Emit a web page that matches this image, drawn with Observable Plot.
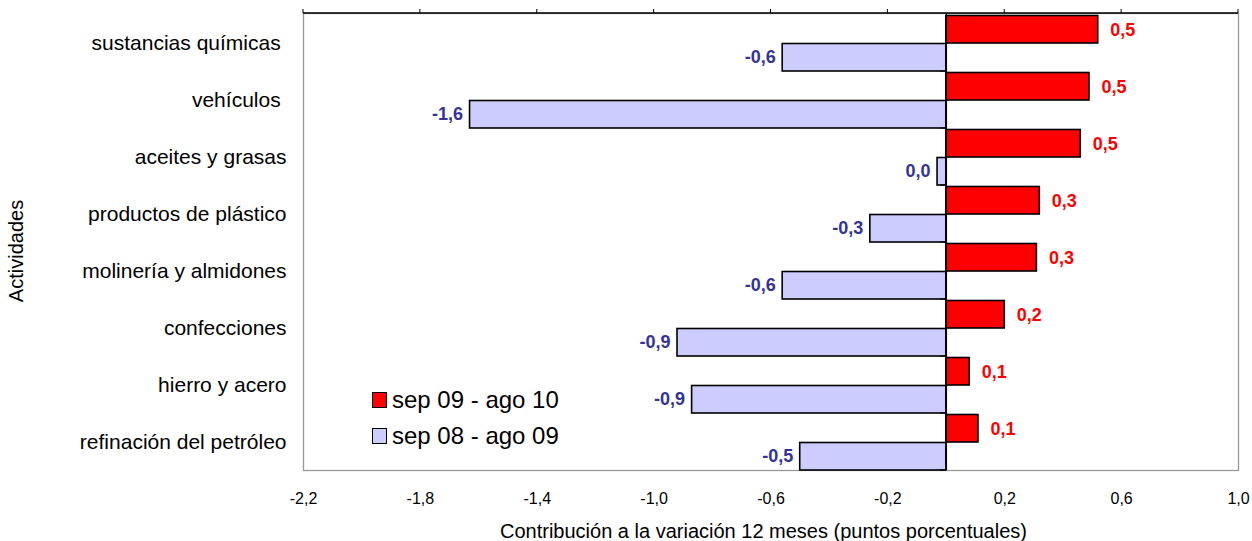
<!DOCTYPE html>
<html><head><meta charset="utf-8">
<script src="https://cdn.jsdelivr.net/npm/d3@7"></script>
<script src="https://cdn.jsdelivr.net/npm/@observablehq/plot@0.6"></script>
<style>
body{margin:0;background:#fff;font-family:"Liberation Sans",Arial,sans-serif;}
#wrap{position:relative;width:1252px;height:541px;}
.leg{position:absolute;left:372px;font-size:24px;color:#000;display:flex;align-items:center;}
.leg span.sw{display:inline-block;width:13px;height:14px;border:1px solid #000;margin-right:5px;}
</style></head>
<body><div id="wrap"></div>
<script>
const categories = ["sustancias químicas ","vehículos ","aceites y grasas","productos de plástico","molinería y almidones","confecciones","hierro y acero","refinación del petróleo"];
const series = ["sep 09 - ago 10","sep 08 - ago 09"];
const values2010 = [0.52, 0.49, 0.46, 0.32, 0.31, 0.20, 0.08, 0.11];
const values2009 = [-0.56, -1.63, -0.03, -0.26, -0.56, -0.92, -0.87, -0.50];
const xTicks = [-2.2,-1.8,-1.4,-1.0,-0.6,-0.2,0.2,0.6,1.0];
const xTitle = "Contribución a la variación 12 meses (puntos porcentuales)";
const yTitle = "Actividades";
const colors = ["#ff0000","#ccccff"];
const labelColors = ["#ff0000","#333399"];

const fmt = v => { let s = v.toFixed(1); if (s === "-0.0") s = "0.0"; return s.replace(".", ","); };
const red = categories.map((c,i)=>({cat:c, value:values2010[i]}));
const blue = categories.map((c,i)=>({cat:c, value:values2009[i]}));

const W = 1252, H = 541;
const plot = Plot.plot({
  width: W, height: H,
  marginLeft: 303, marginRight: 14, marginTop: 13, marginBottom: 71,
  style: {fontFamily: "'Liberation Sans', Arial, sans-serif", fontSize: "16px", color:"#000", background:"#fff"},
  x: {domain: [-2.2, 1.0], ticks: xTicks, tickFormat: d => d.toFixed(1).replace(".", ","), tickSize: 0, tickPadding: 22,
      label: null, axis: "bottom"},
  y: {domain: categories, paddingInner: 0, paddingOuter: 0, axis: null, label: null},
  marks: [
    Plot.frame({stroke: "#999", strokeWidth: 1.3}),
    Plot.barX(red, {x: "value", y: "cat", fill: colors[0], stroke: "#000", strokeWidth: 1.6, insetTop: 1.5, insetBottom: 28}),
    Plot.barX(blue, {x: "value", y: "cat", fill: colors[1], stroke: "#000", strokeWidth: 1.6, insetTop: 29.5, insetBottom: 0}),
    Plot.ruleX([0], {stroke: "#000", strokeWidth: 1.5}),
    Plot.text(categories, {y: d => d, frameAnchor: "left", dx: -17, textAnchor: "end", fill: "#000", fontSize: 21}),
    Plot.text(red, {x: "value", y: "cat", text: d => fmt(d.value), dx: 12, dy: -13, textAnchor: "start", fill: labelColors[0], fontWeight: "bold", fontSize: 18}),
    Plot.text(blue, {x: "value", y: "cat", text: d => fmt(d.value), dx: -7, dy: 14, textAnchor: "end", fill: labelColors[1], fontWeight: "bold", fontSize: 18})
  ]
});
document.getElementById("wrap").appendChild(plot);

const svg = d3.select(plot);
// top axis line with small ticks, using Plot's x scale
const xs = plot.scale("x");
const ys = plot.scale("y");
const g = svg.append("g");
const x0 = xs.apply(-2.2), x1 = xs.apply(1.0), ty = 13;
g.append("line").attr("x1", x0).attr("x2", x1).attr("y1", ty).attr("y2", ty).attr("stroke", "#000").attr("stroke-width", 1.3);
xTicks.forEach(t => g.append("line").attr("x1", xs.apply(t)).attr("x2", xs.apply(t)).attr("y1", ty - 4).attr("y2", ty).attr("stroke", "#000"));
// small category ticks on zero line at band boundaries
const zx = xs.apply(0), bw = ys.bandwidth;
categories.forEach(c => {
  const yb = ys.apply(c) + bw;
  g.append("line").attr("x1", zx - 6).attr("x2", zx).attr("y1", yb).attr("y2", yb).attr("stroke", "#000");
});
// axis titles
g.append("text").attr("x", (x0 + x1) / 2 - 7).attr("y", 533).attr("text-anchor", "middle")
  .attr("font-size", 20).attr("font-family", "'Liberation Sans', Arial, sans-serif").attr("dominant-baseline", "middle").text(xTitle);
g.append("text").attr("transform", `translate(18,251) rotate(-90)`)
  .attr("text-anchor", "middle").attr("dominant-baseline", "middle")
  .attr("font-size", 20).attr("font-family", "'Liberation Sans', Arial, sans-serif").text(yTitle);

// legend
const wrap = document.getElementById("wrap");
series.forEach((s,i) => {
  const d = document.createElement("div");
  d.className = "leg";
  d.style.top = (386 + i*36) + "px";
  d.innerHTML = `<span class="sw" style="background:${colors[i]}"></span>${s}`;
  wrap.appendChild(d);
});
</script></body></html>
